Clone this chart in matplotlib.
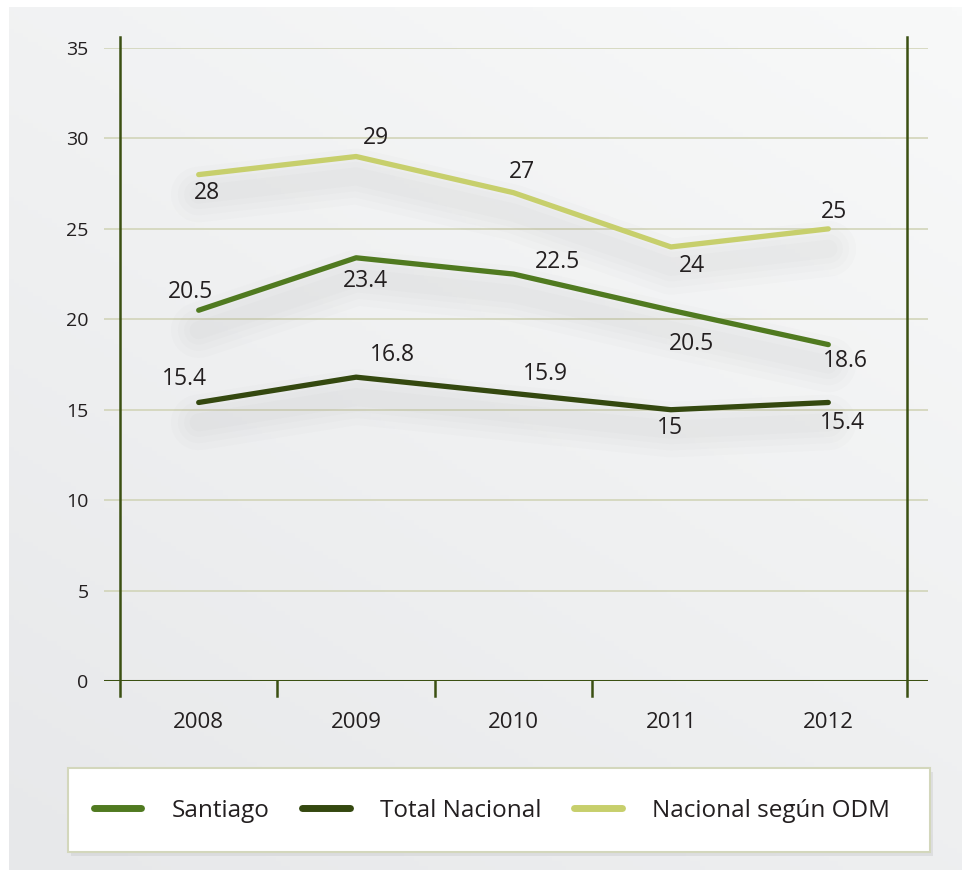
import matplotlib
matplotlib.use("Agg")
import matplotlib.pyplot as plt
from matplotlib.lines import Line2D
from matplotlib.patches import Rectangle
import numpy as np

plt.rcParams['font.family'] = ['Open Sans', 'DejaVu Sans']

# data
years = ['2008', '2009', '2010', '2011', '2012']
santiago = [20.5, 23.4, 22.5, 20.5, 18.6]
total_nacional = [15.4, 16.8, 15.9, 15.0, 15.4]
nacional_odm = [28, 29, 27, 24, 25]
series_names = ['Santiago', 'Total Nacional', 'Nacional según ODM']

# label offsets (points) relative to each point
off_santiago = [(-6, 13), (7, -17), (32, 9), (15, -24), (12, -12)]
off_total = [(-10, 17), (26, 16), (23, 14), (-1, -13), (10, -15)]
off_odm = [(6, -13), (14, 13), (6, 15), (15, -14), (4, 12)]

c_sant = '#507a20'
c_total = '#34480f'
c_odm = '#c7cf6c'
c_axis = '#3b5012'
c_grid = '#cfd2b4'
c_text = '#231f20'

fig = plt.figure(figsize=(9.67, 8.75), dpi=100)

# background panel with soft gradient
bg = fig.add_axes([9 / 967, 5 / 875, 953 / 967, 863 / 875], zorder=-10)
gx, gy = np.meshgrid(np.linspace(0, 1, 200), np.linspace(0, 1, 200))
grad = 0.6 * gy + 0.4 * (1 - gx)
bg.imshow(grad, cmap=matplotlib.colors.LinearSegmentedColormap.from_list(
    'bg', ['#f8f9f9', '#e7e8ea']), aspect='auto', extent=[0, 1, 0, 1])
bg.axis('off')

ax = fig.add_axes([104 / 967, 1 - 681 / 875, 824 / 967, 633 / 875])
ax.patch.set_alpha(0)
x = np.arange(len(years))
ax.set_xlim(-0.5 - 16 / 157.4, 4.5 + 21 / 157.4)
ax.set_ylim(0, 35)
for s in ax.spines.values():
    s.set_visible(False)

# grid
for yv in range(5, 36, 5):
    ax.axhline(yv, color=c_grid, lw=1.1, zorder=1)
ax.axhline(0, color=c_axis, lw=2.2, zorder=3)
ax.axvline(-0.5, ymin=-0.0237, ymax=1.0174, color=c_axis, lw=1.8, clip_on=False, zorder=3)
ax.axvline(4.5, ymin=-0.0237, ymax=1.0174, color=c_axis, lw=1.8, clip_on=False, zorder=3)
for b in [0.5, 1.5, 2.5]:
    ax.axvline(b, ymin=-0.0237, ymax=0, color=c_axis, lw=1.8, clip_on=False, zorder=3)

ax.set_yticks(range(0, 36, 5))
ax.set_xticks(x)
ax.set_xticklabels(years)
ax.tick_params(axis='y', length=0, pad=11, labelsize=14, labelcolor=c_text)
ax.tick_params(axis='x', length=0, pad=22, labelsize=16, labelcolor=c_text)

series = [(santiago, c_sant, off_santiago),
          (total_nacional, c_total, off_total),
          (nacional_odm, c_odm, off_odm)]

# soft shadows
for vals, col, offs in series:
    v = np.array(vals, dtype=float)
    for w in [40, 30, 21, 13]:
        ax.plot(x, v - 1.1, color='#8c8c8c', lw=w, alpha=0.028,
                solid_capstyle='round', solid_joinstyle='round', zorder=2)

for vals, col, offs in series:
    ax.plot(x, vals, color=col, lw=3.8, solid_capstyle='round',
            solid_joinstyle='round', zorder=4)
    for xi, v, (dx, dy) in zip(x, vals, offs):
        lab = f'{v:g}'
        ax.annotate(lab, (xi, v), xytext=(dx, dy), textcoords='offset points',
                    ha='center', va='center', fontsize=16.5, color=c_text, zorder=5)

# legend box
fig.patches.append(Rectangle((71 / 967, 1 - 856 / 875), 862 / 967, 84 / 875,
                             transform=fig.transFigure, facecolor='#cfd0d2',
                             edgecolor='none', alpha=0.5, zorder=0))
fig.patches.append(Rectangle((68 / 967, 1 - 852 / 875), 862 / 967, 84 / 875,
                             transform=fig.transFigure, facecolor='white',
                             edgecolor='#d3d7bc', lw=1.5, zorder=1))
handles = [Line2D([], [], color=c, lw=5, solid_capstyle='round')
           for c in [c_sant, c_total, c_odm]]
fig.legend(handles, series_names, loc='center', bbox_to_anchor=(492 / 967, 1 - 811 / 875),
           ncol=3, frameon=False, fontsize=17.5, handlelength=1.95,
           handletextpad=1.25, columnspacing=1.35, labelcolor=c_text)

fig.savefig('out.png', dpi=100)
